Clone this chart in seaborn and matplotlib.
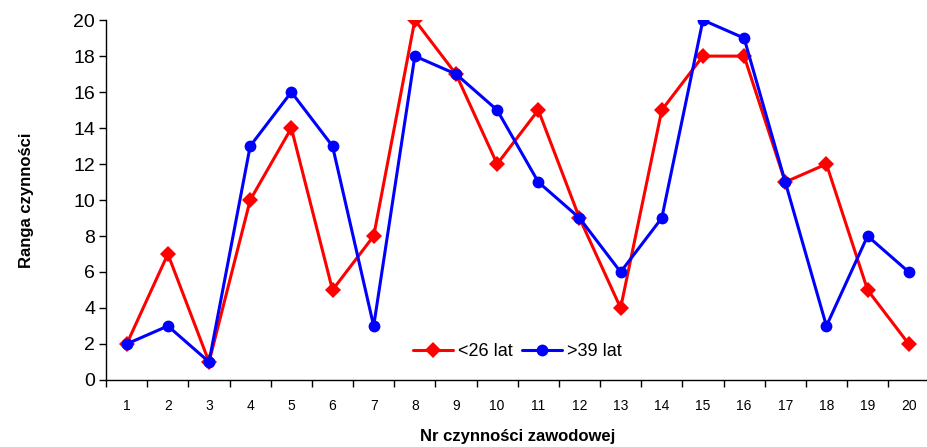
import seaborn as sns
import matplotlib.pyplot as plt
import pandas as pd
import numpy as np

# data
nr = list(range(1, 21))
young = [2, 7, 1, 10, 14, 5, 8, 20, 17, 12, 15, 9, 4, 15, 18, 18, 11, 12, 5, 2]
old = [2, 3, 1, 13, 16, 13, 3, 18, 17, 15, 11, 9, 6, 9, 20, 19, 11, 3, 8, 6]
series_names = ["<26 lat", ">39 lat"]

df = pd.DataFrame({"nr": nr * 2,
                   "ranga": young + old,
                   "grupa": [series_names[0]] * 20 + [series_names[1]] * 20})

sns.set_style("white")
plt.rcParams['font.family'] = ['Liberation Sans', 'DejaVu Sans']
plt.rcParams['text.color'] = 'black'
plt.rcParams['axes.labelcolor'] = 'black'
plt.rcParams['xtick.color'] = 'black'
plt.rcParams['ytick.color'] = 'black'

fig = plt.figure(figsize=(9.27, 4.47), dpi=100)
ax = fig.add_axes([0.1145, 0.150, 0.888, 0.805])

sns.lineplot(data=df, x="nr", y="ranga", hue="grupa", style="grupa",
             palette={"<26 lat": "#ff0000", ">39 lat": "#0000ff"},
             markers={"<26 lat": "D", ">39 lat": "o"}, dashes=False,
             markersize=8.5, linewidth=2.2, markeredgewidth=0, ax=ax)

ax.set_xlim(0.5, 20.5)
ax.set_ylim(0, 20)
ax.set_yticks(np.arange(0, 21, 2))
ax.set_xticks(nr)
ax.set_xticks(np.arange(0.5, 21, 1), minor=True)
ax.tick_params(axis='x', which='major', bottom=True, length=0, labelsize=10, pad=14)
ax.tick_params(axis='x', which='minor', bottom=True, length=5, width=1, direction='out')
ax.tick_params(axis='y', left=True, length=5, width=1, direction='out', labelsize=14, pad=3)

for s in ['top', 'right']:
    ax.spines[s].set_visible(False)
for s in ['left', 'bottom']:
    ax.spines[s].set_color('black')
    ax.spines[s].set_linewidth(1)

ax.set_xlabel("Nr czynności zawodowej", fontsize=12, fontweight='bold', labelpad=11)
ax.set_ylabel("Ranga czynności", fontsize=12, fontweight='bold', labelpad=28)

ax.legend(title=None, loc='center', bbox_to_anchor=(0.5, 0.078), ncol=2,
          frameon=False, fontsize=13, handlelength=2.2, columnspacing=0.5,
          handletextpad=0.3)

plt.savefig("out.png", dpi=100)
